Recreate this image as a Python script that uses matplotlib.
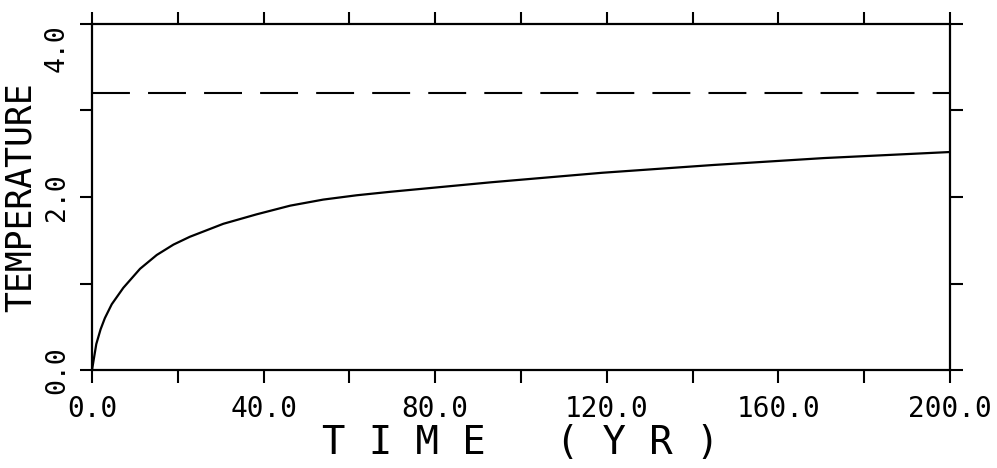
import numpy as np
import matplotlib.pyplot as plt

# values
time_yr = [0, 1.0, 2.0, 3.0, 4.6, 7.3, 11.2, 15.1, 19.0, 22.8, 30.6, 38.4, 46.2,
           53.9, 61.7, 69.5, 93.0, 118.9, 144.8, 170.6, 200]
temp = [0.0, 0.30, 0.47, 0.60, 0.76, 0.95, 1.17, 1.33, 1.45, 1.54, 1.69, 1.80, 1.90,
        1.97, 2.02, 2.06, 2.17, 2.28, 2.37, 2.45, 2.52]
eq_time = [0, 200]
eq_temp = [3.2, 3.2]

xticks = np.arange(0, 201, 20)
xlabels = ["0.0", "", "40.0", "", "80.0", "", "120.0", "", "160.0", "", "200.0"]
yticks = [0, 1, 2, 3, 4]
ylabels = ["0.0", "", "2.0", "", "4.0"]

mono = "DejaVu Sans Mono"

fig = plt.figure(figsize=(9.97, 4.68), dpi=100)
ax = fig.add_axes([92/997, (468-370)/468, (950-92)/997, (370-24)/468])

ax.plot(time_yr, temp, color="black", lw=1.6)
ax.plot(eq_time, eq_temp, color="black", lw=1.5, dashes=(18.2, 8.7))

ax.set_xlim(0, 200)
ax.set_ylim(0, 4)

for s in ax.spines.values():
    s.set_linewidth(1.6)

ax.set_xticks(xticks)
ax.set_xticklabels(xlabels, fontfamily=mono, fontsize=20)
ax.set_yticks(yticks)
ax.set_yticklabels(ylabels, fontfamily=mono, fontsize=19, rotation=90)
for lab in ax.get_yticklabels():
    lab.set_va("center")
ax.get_yticklabels()[4].set_va("top")

ax.tick_params(direction="out", length=9, width=1.5, top=True, right=True,
               labeltop=False, labelright=False)
ax.tick_params(axis="x", pad=9)
ax.tick_params(axis="y", pad=7)

ax.set_xlabel("T I M E   ( Y R )", fontfamily=mono, fontsize=28, labelpad=1)
ax.set_ylabel("TEMPERATURE", fontfamily=mono, fontsize=25, labelpad=4)

fig.savefig("out.png", dpi=100)
